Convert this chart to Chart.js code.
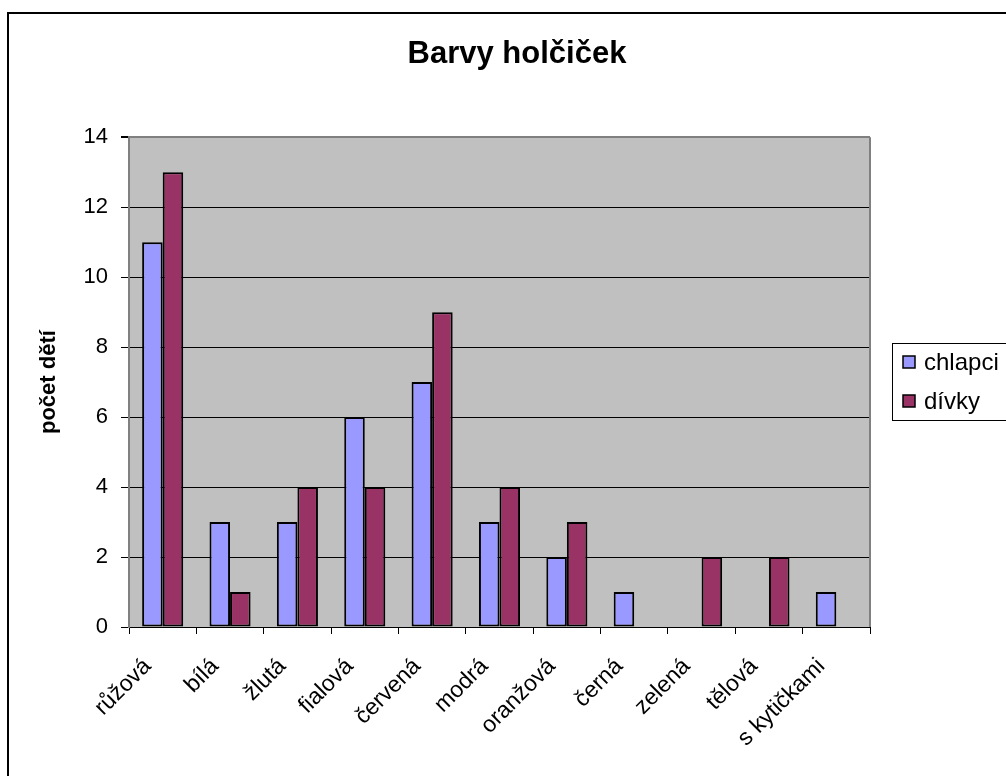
<!DOCTYPE html>
<html>
<head>
<meta charset="utf-8">
<title>Barvy holčiček</title>
<script src="https://cdn.jsdelivr.net/npm/chart.js@4/dist/chart.umd.min.js"></script>
<style>
  body { margin: 0; background: #fff; overflow: hidden; }
</style>
</head>
<body>
<canvas id="barvyChart" width="1006" height="776"></canvas>
<script>
// Data z grafu
var kategorie = ['růžová', 'bílá', 'žlutá', 'fialová', 'červená', 'modrá', 'oranžová', 'černá', 'zelená', 'tělová', 's kytičkami'];
var chlapci = [11, 3, 3, 6, 7, 3, 2, 1, null, null, 1];
var divky = [13, 1, 4, 4, 9, 4, 3, null, 2, 2, null];
var yTicks = [0, 2, 4, 6, 8, 10, 12, 14];

var font = "'Liberation Sans', Arial, sans-serif";

// Pozadí, rámeček grafu a šedý okraj plochy
var plotArea = {
  id: 'plotArea',
  beforeDraw: function (chart) {
    var ctx = chart.ctx, a = chart.chartArea;
    ctx.save();
    ctx.fillStyle = '#fff';
    ctx.fillRect(0, 0, chart.width, chart.height);
    ctx.strokeStyle = '#000';
    ctx.lineWidth = 2;
    ctx.strokeRect(8, 13, 1200, 1000);
    ctx.fillStyle = '#C0C0C0';
    ctx.fillRect(a.left, a.top, a.right - a.left, a.bottom - a.top);
    ctx.restore();
  },
  beforeDatasetsDraw: function (chart) {
    var ctx = chart.ctx, a = chart.chartArea;
    ctx.save();
    ctx.strokeStyle = '#808080';
    ctx.lineWidth = 2;
    ctx.beginPath();
    ctx.moveTo(a.right, a.top);
    ctx.lineTo(a.right, a.bottom);
    ctx.stroke();
    ctx.restore();
  }
};

// Legenda vpravo (jako v Excelu)
var legendaBox = {
  id: 'legendaBox',
  afterDraw: function (chart) {
    var ctx = chart.ctx;
    ctx.save();
    ctx.fillStyle = '#fff';
    ctx.fillRect(892, 343, 130, 77);
    ctx.strokeStyle = '#000';
    ctx.lineWidth = 1;
    ctx.strokeRect(892.5, 343.5, 130, 77);
    chart.data.datasets.forEach(function (ds, i) {
      var y = 362 + i * 39;
      ctx.fillStyle = ds.backgroundColor;
      ctx.fillRect(903, y - 6, 12, 12);
      ctx.strokeStyle = '#000';
      ctx.lineWidth = 1.5;
      ctx.strokeRect(903, y - 6, 12, 12);
      ctx.fillStyle = '#000';
      ctx.font = '24px ' + font;
      ctx.textBaseline = 'middle';
      ctx.fillText(ds.label, 924, y + 1);
    });
    ctx.restore();
  }
};

var ctx = document.getElementById('barvyChart').getContext('2d');

var chart = new Chart(ctx, {
  type: 'bar',
  data: {
    labels: kategorie,
    datasets: [{
      label: 'chlapci',
      data: chlapci,
      backgroundColor: '#9999FF',
      borderColor: '#000',
      borderWidth: 2,
      borderSkipped: false
    }, {
      label: 'dívky',
      data: divky,
      backgroundColor: '#993366',
      borderColor: '#000',
      borderWidth: 2,
      borderSkipped: false
    }]
  },
  options: {
    responsive: false,
    animation: false,
    layout: { padding: { left: 28, top: 0, right: 0, bottom: 0 } },
    datasets: { bar: { barPercentage: 1, categoryPercentage: 0.61 } },
    plugins: {
      legend: { display: false },
      tooltip: { enabled: false },
      title: {
        display: true,
        text: 'Barvy holčiček',
        color: '#000',
        font: { family: font, size: 31, weight: 'bold' },
        padding: { top: 36, bottom: 64 }
      }
    },
    scales: {
      x: {
        afterFit: function (scale) { scale.height = 149; },
        grid: { drawOnChartArea: false, color: '#000', tickLength: 7 },
        border: { color: '#000', width: 1 },
        ticks: {
          color: '#000',
          font: { family: font, size: 23 },
          maxRotation: 45,
          minRotation: 45,
          autoSkip: false,
          labelOffset: -15,
          padding: 19
        }
      },
      y: {
        min: 0,
        max: 14,
        afterFit: function (scale) { scale.width = 101; },
        afterBuildTicks: function (scale) {
          scale.ticks = yTicks.map(function (v) { return { value: v }; });
        },
        grid: {
          color: function (c) { return c.tick && c.tick.value === 14 ? '#808080' : '#000'; },
          lineWidth: function (c) { return c.tick && c.tick.value === 14 ? 2 : 1; },
          tickColor: '#000',
          tickLength: 8
        },
        border: { color: '#808080', width: 2 },
        ticks: {
          color: '#000',
          font: { family: font, size: 22 },
          padding: 13
        },
        title: {
          display: true,
          text: 'počet dětí',
          color: '#000',
          font: { family: font, size: 22, weight: 'bold' },
          padding: { top: 8, bottom: 0 }
        }
      },
      // prázdná osa vpravo = místo pro legendu
      prostor: {
        position: 'right',
        afterFit: function (scale) { scale.width = 136; },
        grid: { display: false },
        border: { display: false },
        ticks: { display: false }
      }
    }
  },
  plugins: [plotArea, legendaBox]
});
</script>
</body>
</html>
